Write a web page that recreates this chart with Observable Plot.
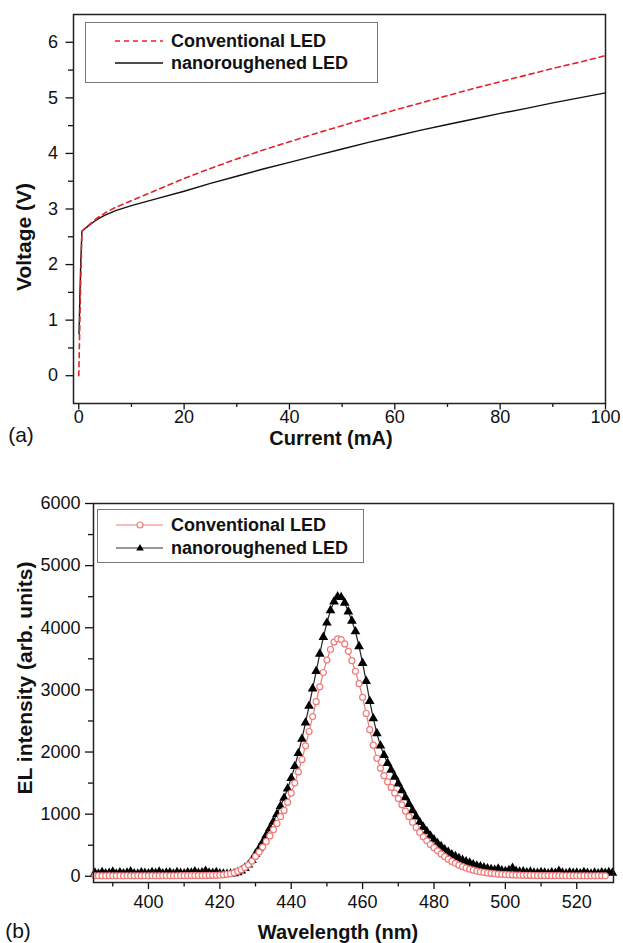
<!DOCTYPE html>
<html><head><meta charset="utf-8">
<script src="https://cdn.jsdelivr.net/npm/d3@7"></script>
<script src="https://cdn.jsdelivr.net/npm/@observablehq/plot@0.6"></script>
<style>
body{margin:0;background:#fff;font-family:"Liberation Sans",Arial,Helvetica,sans-serif;}
#wrap{position:relative;width:623px;height:943px;overflow:hidden;background:#fff;}
#wrap svg{position:absolute;left:0;}
.ov{position:absolute;white-space:nowrap;color:#111;line-height:1;}
.title{font-weight:bold;font-size:21px;transform:translate(-50%,-50%);}
.rot{transform:translate(-50%,-50%) rotate(-90deg);}
.panel{font-size:21px;transform:translate(-50%,-50%);}
.lgbox{position:absolute;border:1.3px solid #777;background:#fff;box-sizing:border-box;}
.lgtext{font-weight:bold;font-size:18px;transform:translateY(-50%);}
</style></head><body><div id="wrap"></div>
<script>
// ---------- Panel (a): I-V curves ----------
const convCurrent = [0, 0.15, 0.3, 0.45, 0.6, 1, 2, 3, 4, 5, 7, 10, 15, 20, 25, 30, 35, 40, 45, 50, 55, 60, 65, 70, 75, 80, 85, 90, 95, 100];
const convVoltage = [0, 0.7, 1.4, 2.0, 2.6, 2.64, 2.72, 2.8, 2.87, 2.93, 3.03, 3.15, 3.35, 3.55, 3.73, 3.90, 4.06, 4.21, 4.36, 4.50, 4.64, 4.78, 4.91, 5.04, 5.17, 5.29, 5.41, 5.53, 5.64, 5.76];
const nanoCurrent = [0.05, 0.2, 0.4, 0.6, 1, 2, 3, 4, 5, 7, 10, 15, 20, 25, 30, 35, 40, 45, 50, 55, 60, 65, 70, 75, 80, 85, 90, 95, 100];
const nanoVoltage = [0.75, 1.4, 2.1, 2.6, 2.63, 2.71, 2.78, 2.84, 2.89, 2.97, 3.06, 3.19, 3.32, 3.46, 3.59, 3.72, 3.84, 3.96, 4.08, 4.20, 4.31, 4.42, 4.52, 4.62, 4.72, 4.81, 4.91, 5.00, 5.09];
const voltTicks = [0, 1, 2, 3, 4, 5, 6];
const voltMinor = [0.5, 1.5, 2.5, 3.5, 4.5, 5.5];
const currTicks = [0, 20, 40, 60, 80, 100];
const currMinor = [10, 30, 50, 70, 90];

// ---------- Panel (b): EL spectra ----------
const wavelength = [385,386,387,388,389,390,391,392,393,394,395,396,397,398,399,400,401,402,403,404,405,406,407,408,409,410,411,412,413,414,415,416,417,418,419,420,421,422,423,424,425,426,427,428,429,430,431,432,433,434,435,436,437,438,439,440,441,442,443,444,445,446,447,448,449,450,451,452,453,454,455,456,457,458,459,460,461,462,463,464,465,466,467,468,469,470,471,472,473,474,475,476,477,478,479,480,481,482,483,484,485,486,487,488,489,490,491,492,493,494,495,496,497,498,499,500,501,502,503,504,505,506,507,508,509,510,511,512,513,514,515,516,517,518,519,520,521,522,523,524,525,526,527,528,529,530];
const elConventional = [8,9,8,8,9,8,8,9,8,9,8,8,9,8,9,8,9,8,8,9,9,8,9,9,10,10,10,11,11,12,12,13,14,15,16,18,23,30,40,55,78,105,140,185,245,320,390,470,560,650,750,850,960,1060,1190,1340,1500,1680,1880,2100,2330,2570,2810,3050,3280,3480,3650,3770,3820,3810,3740,3620,3470,3300,3100,2880,2620,2360,2110,1900,1740,1620,1520,1430,1340,1250,1150,1050,960,870,785,705,635,570,512,460,410,360,315,275,240,208,180,155,133,114,98,84,72,62,54,47,41,36,32,28,25,22,20,18,16,15,14,13,12,12,11,11,10,10,10,9,9,9,9,8,8,9,8,8,8,9,8,8];
const elNanoroughened = [55,40,65,45,50,70,40,60,45,55,75,45,40,60,50,45,65,50,70,45,55,60,40,65,50,45,60,55,75,50,60,85,55,50,65,45,40,35,40,45,60,90,130,185,260,360,450,550,660,770,880,1000,1130,1260,1410,1580,1770,1980,2210,2470,2740,3020,3300,3580,3850,4080,4280,4420,4500,4490,4400,4260,4110,3940,3700,3430,3140,2820,2540,2300,2100,1950,1820,1710,1600,1490,1380,1270,1160,1060,960,870,790,720,650,590,530,480,430,390,350,320,290,260,235,215,190,170,155,140,125,110,100,120,90,80,95,130,85,70,75,60,70,55,50,65,55,45,60,50,85,55,45,60,50,55,45,65,50,40,55,45,60,50,65,55];
const elTicks = [0, 1000, 2000, 3000, 4000, 5000, 6000];
const elMinor = [500, 1500, 2500, 3500, 4500, 5500];
const wlTicks = [400, 420, 440, 460, 480, 500, 520];
const wlMinor = [390, 410, 430, 450, 470, 490, 510];

const ink = "#111";
const redIV = "#e3232b";
const pink = "#f07a7a";
const fontFam = "'Liberation Sans', Arial, Helvetica, sans-serif";

const convIV = convCurrent.map((c, i) => ({c, v: convVoltage[i]}));
const nanoIV = nanoCurrent.map((c, i) => ({c, v: nanoVoltage[i]}));
const convEL = wavelength.map((w, i) => ({w, v: elConventional[i]}));
const nanoEL = wavelength.map((w, i) => ({w, v: elNanoroughened[i]}));

const wrap = document.getElementById("wrap");

const chartA = Plot.plot({
  width: 623, height: 460,
  marginLeft: 73, marginRight: 18, marginTop: 14, marginBottom: 57,
  style: {fontFamily: fontFam, fontSize: "18px", color: ink, background: "white"},
  x: {domain: [-1, 100]},
  y: {domain: [-0.5, 6.5]},
  marks: [
    Plot.axisX({ticks: currTicks, tickSize: 6.5, tickPadding: 0.5, fontSize: 18, label: null, tickFormat: d => String(d), strokeWidth: 1.3}),
    Plot.axisX({ticks: currMinor, tickSize: 4, tickFormat: () => "", label: null, strokeWidth: 1.3}),
    Plot.axisY({ticks: voltTicks, tickSize: 7.5, tickPadding: 8, fontSize: 18, label: null, tickFormat: d => String(d), strokeWidth: 1.3}),
    Plot.axisY({ticks: voltMinor, tickSize: 5, tickFormat: () => "", label: null, strokeWidth: 1.3}),
    Plot.line(nanoIV, {x: "c", y: "v", stroke: ink, strokeWidth: 1.4}),
    Plot.line(convIV, {x: "c", y: "v", stroke: redIV, strokeWidth: 1.6, strokeDasharray: "5,4"}),
    Plot.frame({stroke: "#222", strokeWidth: 1.5})
  ]
});
chartA.style.top = "0px";
wrap.appendChild(chartA);

const chartB = Plot.plot({
  width: 623, height: 483,
  marginLeft: 93, marginRight: 10, marginTop: 43, marginBottom: 61,
  style: {fontFamily: fontFam, fontSize: "18px", color: ink, background: "white"},
  x: {domain: [384.6, 530.3]},
  y: {domain: [-100, 6000]},
  marks: [
    Plot.axisX({ticks: wlTicks, tickSize: 7, tickPadding: 6, fontSize: 18, label: null, tickFormat: d => String(d), strokeWidth: 1.3}),
    Plot.axisX({ticks: wlMinor, tickSize: 4.5, tickFormat: () => "", label: null, strokeWidth: 1.3}),
    Plot.axisY({ticks: elTicks, tickSize: 8, tickPadding: 5, fontSize: 18, label: null, tickFormat: d => String(d), strokeWidth: 1.3}),
    Plot.axisY({ticks: elMinor, tickSize: 5, tickFormat: () => "", label: null, strokeWidth: 1.3}),
    Plot.line(nanoEL, {x: "w", y: "v", stroke: "#222", strokeWidth: 1.2}),
    Plot.dot(nanoEL, {x: "w", y: "v", symbol: "triangle", r: 3.6, fill: "#000", stroke: "none"}),
    Plot.line(convEL, {x: "w", y: "v", stroke: pink, strokeWidth: 1.2}),
    Plot.dot(convEL, {x: "w", y: "v", symbol: "circle", r: 3, fill: "white", stroke: pink, strokeWidth: 1.2}),
    Plot.frame({stroke: "#222", strokeWidth: 1.5})
  ]
});
chartB.style.top = "460px";
wrap.appendChild(chartB);

function addText(html, cls, left, top) {
  const d = document.createElement("div");
  d.className = "ov " + cls;
  d.style.left = left + "px";
  d.style.top = top + "px";
  d.innerHTML = html;
  wrap.appendChild(d);
  return d;
}
function addBox(left, top, w, h) {
  const d = document.createElement("div");
  d.className = "lgbox";
  Object.assign(d.style, {left: left + "px", top: top + "px", width: w + "px", height: h + "px"});
  wrap.appendChild(d);
}
function addSwatch(left, cy, svgInner) {
  const ns = "http://www.w3.org/2000/svg";
  const s = document.createElementNS(ns, "svg");
  s.setAttribute("width", 50); s.setAttribute("height", 14);
  s.style.position = "absolute"; s.style.left = left + "px"; s.style.top = (cy - 7) + "px";
  s.innerHTML = svgInner;
  wrap.appendChild(s);
}

// axis titles and panel letters
addText("Voltage (V)", "title rot", 23, 237);
addText("Current (mA)", "title", 331, 438).style.fontSize = "20px";
addText("(a)", "panel", 21, 434);
addText("EL intensity (arb. units)", "title rot", 24, 678);
addText("Wavelength (nm)", "title", 338, 932).style.fontSize = "20px";
addText("(b)", "panel", 18, 930);

// legend (a)
addBox(85, 22, 293, 61);
addSwatch(115, 41, `<line x1="0" y1="7" x2="48" y2="7" stroke="${redIV}" stroke-width="1.6" stroke-dasharray="5,4"/>`);
addSwatch(115, 63, `<line x1="0" y1="7" x2="48" y2="7" stroke="${ink}" stroke-width="1.4"/>`);
addText("Conventional LED", "lgtext", 171, 41);
addText("nanoroughened LED", "lgtext", 171, 63);

// legend (b)
addBox(97, 509, 267, 54);
addSwatch(116, 525, `<line x1="0" y1="7" x2="47" y2="7" stroke="${pink}" stroke-width="1.2"/><circle cx="24" cy="7" r="3" fill="white" stroke="${pink}" stroke-width="1.2"/>`);
addSwatch(116, 548, `<line x1="0" y1="7" x2="47" y2="7" stroke="#333" stroke-width="1.2"/><path d="M24,3 L27.8,9.6 L20.2,9.6 Z" fill="#000"/>`);
addText("Conventional LED", "lgtext", 171, 525);
addText("nanoroughened LED", "lgtext", 171, 548);
</script></body></html>
